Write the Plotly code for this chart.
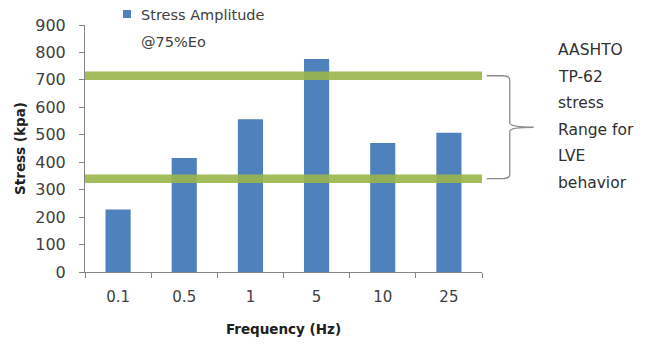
import plotly.graph_objects as go

# data
freqs = ["0.1", "0.5", "1", "5", "10", "25"]
stress = [228, 415, 557, 776, 470, 507]
limits = [715, 340]          # AASHTO TP-62 range (green bands)
legend_lines = ["Stress Amplitude", "@75%Eo"]
note_lines = ["AASHTO", "TP-62", "stress", "Range for", "LVE", "behavior"]

FONT = "DejaVu Sans"
TXT = "#404040"
BLUE = "#4F81BD"

# the page body has an 8px margin, so the figure is shrunk by 8px to fill the window
OFF = 8
W, H = 647 - OFF, 347 - OFF
# plot area in window pixels: x 85..482, y 25..272
L, R, T, B = 85 - OFF, 165, 25 - OFF, 75
PW, PH = W - L - R, H - T - B


def px_x(p):
    return (p - OFF - L) / PW


def px_y(p):
    return (H - B - (p - OFF)) / PH


fig = go.Figure()
fig.add_trace(go.Bar(x=freqs, y=stress, marker=dict(color=BLUE, line=dict(width=0)),
                     showlegend=False))

# green horizontal bands
for v in limits:
    fig.add_shape(type="line", xref="paper", yref="y", x0=0, x1=1, y0=v, y1=v,
                  line=dict(color="#9BB64B", width=8.5), opacity=0.9, layer="above")

# curly brace joining the two bands
top, bot = max(limits), min(limits)
mid = (top + bot) / 2
fig.add_shape(type="path", xref="paper", yref="y",
              path=(f"M1.012,{top} L1.05,{top} Q1.07,{top} 1.07,{top-15} "
                    f"L1.07,{mid+15} Q1.07,{mid} 1.13,{mid} "
                    f"Q1.07,{mid} 1.07,{mid-15} L1.07,{bot+15} "
                    f"Q1.07,{bot} 1.05,{bot} L1.012,{bot}"),
              line=dict(color="#8C8C8C", width=1.3))

# hand-made legend (two-line label with wide spacing)
fig.add_shape(type="rect", xref="paper", yref="paper",
              x0=px_x(123), x1=px_x(131), y0=px_y(18), y1=px_y(10),
              fillcolor=BLUE, line=dict(width=0))
for i, t in enumerate(legend_lines):
    fig.add_annotation(text=t, xref="paper", yref="paper", x=px_x(139), xanchor="left",
                       y=px_y(15 + i * 27), yanchor="middle", showarrow=False,
                       font=dict(family=FONT, size=14.5, color=TXT))

# side note text
for i, t in enumerate(note_lines):
    fig.add_annotation(text=t, xref="paper", yref="paper", x=px_x(556), xanchor="left",
                       y=px_y(50 + i * 26.5), yanchor="middle", showarrow=False,
                       font=dict(family=FONT, size=15.5, color="#303030"))

fig.update_layout(
    width=W, height=H,
    margin=dict(l=L, r=R, t=T, b=B, autoexpand=False),
    paper_bgcolor="white", plot_bgcolor="white",
    font=dict(family=FONT, color=TXT),
    bargap=0.62,
    xaxis=dict(title=dict(text="<b>Frequency (Hz)</b>", font=dict(size=13.5, color="#202020"),
                          standoff=19),
               automargin=False,
               showline=True, linecolor="#868686", linewidth=1,
               ticks="outside", tickson="boundaries", ticklen=5, tickcolor="#868686",
               ticklabelstandoff=11,
               tickfont=dict(size=15, color=TXT), showgrid=False),
    yaxis=dict(title=dict(text="<b>Stress (kpa)</b>", font=dict(size=13.5, color="#202020"),
                          standoff=6),
               automargin=False,
               range=[0, 900], dtick=100,
               showline=True, linecolor="#868686", linewidth=1,
               ticks="outside", ticklen=5, tickcolor="#868686",
               ticklabelstandoff=10,
               tickfont=dict(size=16, color=TXT), showgrid=False, zeroline=False),
)

fig.write_html("out.html")
